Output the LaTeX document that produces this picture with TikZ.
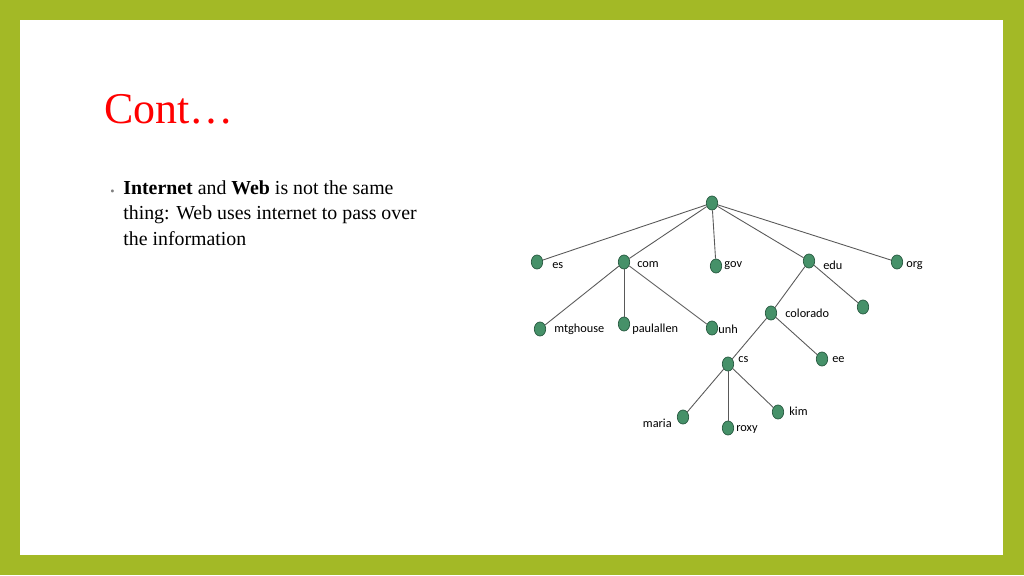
\documentclass[tikz,border=0pt]{standalone}
\usepackage{fontspec}
\setmainfont{Liberation Serif}
\newfontfamily\treefont{Carlito}
\definecolor{olive}{RGB}{163,185,38}
\definecolor{leaf}{RGB}{70,145,105}
\definecolor{leafrim}{RGB}{40,90,65}
\tikzset{
  dot/.style={ellipse, draw=leafrim, fill=leaf, minimum width=6.5pt, minimum height=8pt, inner sep=0pt},
  lbl/.style={anchor=west, font=\treefont\fontsize{7}{8}\selectfont, inner sep=0pt},
  edge/.style={draw=gray!70!black, line width=0.5pt}
}
\usetikzlibrary{shapes.geometric}
\begin{document}
\begin{tikzpicture}[x=0.02cm,y=-0.02cm]
  \fill[olive] (0,0) rectangle (1024,575);
  \fill[white] (20,20) rectangle (1003,555);
  \useasboundingbox (0,0) rectangle (1024,575);

  %title and bullet
  \node[anchor=base west, inner sep=0pt, text=red, font=\fontsize{25}{30}\selectfont] (title) at (104,123) {Cont\dots};
  \node[anchor=base west, inner sep=0pt, text=gray, font=\fontsize{7}{8}\selectfont] (bul) at (110,195) {\textbullet};
  \node[anchor=north west, inner sep=0pt, align=left, font=\fontsize{11.3}{14.7}\selectfont] (txt) at (123,180)
    {\textbf{Internet} and \textbf{Web} is not the same\\thing: Web uses internet to pass over\\the information};

  %tree nodes
  \foreach \x/\y/\name in {712/203/root, 537/262/es, 624/262/com, 716/266/gov, 809/261/edu, 897/262/org,
      540/329/mtghouse, 624/324/paulallen, 712/328/unh, 771/313/colorado, 863/307/edux,
      728/364/cs, 822/359/ee, 683/417/maria, 728/428/roxy, 778/412/kim}{
    \node[dot] (\name) at (\x,\y) {};
  }

  %edges
  \foreach \a/\b in {root/es, root/com, root/gov, root/edu, root/org, com/mtghouse, com/paulallen, com/unh,
      edu/colorado, edu/edux, colorado/cs, colorado/ee, cs/maria, cs/roxy, cs/kim}{
    \draw[edge] (\a) -- (\b);
  }

  %labels
  \foreach \x/\y/\t/\name in {552/266/es/les, 637/265/com/lcom, 724/266/gov/lgov, 823/265/edu/ledu, 906/266/org/lorg,
      554/329/mtghouse/lmtg, 632/329/paulallen/lpaul, 718/329/unh/lunh, 785/313/colorado/lcol,
      738/360/cs/lcs, 832/360/ee/lee, 736/429/roxy/lroxy, 789/411/kim/lkim}{
    \node[lbl] (\name) at (\x,\y) {\t};
  }
  \node[lbl, anchor=east] (lmaria) at (672,423) {maria};
\end{tikzpicture}
\end{document}
